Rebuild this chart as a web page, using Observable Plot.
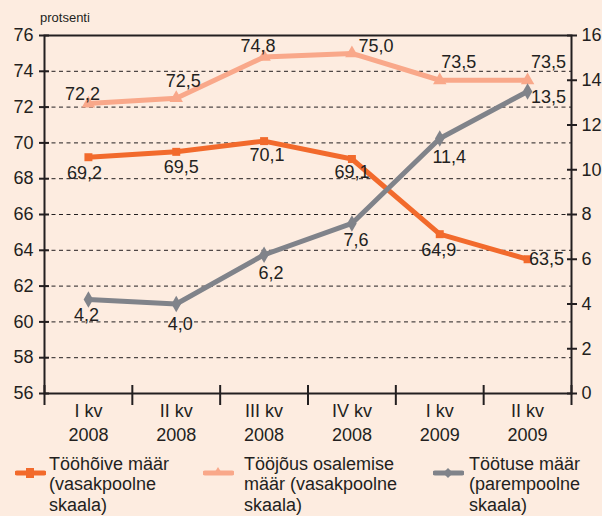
<!DOCTYPE html>
<html>
<head>
<meta charset="utf-8">
<script src="https://cdn.jsdelivr.net/npm/d3@7"></script>
<script src="https://cdn.jsdelivr.net/npm/@observablehq/plot@0.6"></script>
<style>
  html, body { margin: 0; padding: 0; background: #fdece0; }
  body { width: 602px; height: 516px; overflow: hidden; position: relative;
         font-family: "Liberation Sans", Arial, sans-serif; color: #231f20; }
  #chart { position: absolute; left: 0; top: 0; }
  .unit { position: absolute; left: 40px; top: 11px; font-size: 13px; line-height: 13px; }
  .item { position: absolute; top: 454px; font-size: 18px; line-height: 20.3px; white-space: pre; }
  .sw { position: absolute; top: 465px; }
</style>
</head>
<body>
<div id="chart"></div>
<div class="unit">protsenti</div>
<div id="legend"></div>
<script>
// ---- data ----
const quarters = ["I kv\n2008", "II kv\n2008", "III kv\n2008", "IV kv\n2008", "I kv\n2009", "II kv\n2009"];
const employment = [69.2, 69.5, 70.1, 69.1, 64.9, 63.5];      // Tööhõive määr (left)
const participation = [72.2, 72.5, 74.8, 75.0, 73.5, 73.5];   // Tööjõus osalemise määr (left)
const unemployment = [4.2, 4.0, 6.2, 7.6, 11.4, 13.5];        // Töötuse määr (right)
const leftTicks = [56, 58, 60, 62, 64, 66, 68, 70, 72, 74, 76];
const rightTicks = [0, 2, 4, 6, 8, 10, 12, 14, 16];
const gridTicks = [58, 60, 62, 64, 66, 68, 70, 72, 74];
const seriesNames = ["Tööhõive määr\n(vasakpoolne\nskaala)", "Tööjõus osalemise\nmäär (vasakpoolne\nskaala)", "Töötuse määr\n(parempoolne\nskaala)"];

// ---- styles / label placement ----
const ORANGE = "#f26a2c", SALMON = "#f9a88a", GRAY = "#80838a", INK = "#231f20";
const empOff = [[-4, 16], [5, 15], [3, 14.5], [0, 13], [-1, 16], [19, 0]];
const partOff = [[-6, -9], [7, -17], [-6, -11], [24, -7], [19, -18], [21, -18]];
const unempOff = [[-2, 16], [4, 20], [7, 18], [4, 17], [9.5, 19], [21, 5.5]];

const L0 = 56, L1 = 76, R1 = 16;
const toLeft = v => L0 + v * (L1 - L0) / R1;
const fromLeft = d => Math.round((d - L0) * R1 / (L1 - L0));
const fmt = v => v.toFixed(1).replace(".", ",");
const idx = d3.range(quarters.length);
const bounds = d3.range(quarters.length + 1).map(i => i - 0.5);

function labels(values, off, yf) {
  return values.map((v, i) => Plot.text([v], {
    x: () => i, y: yf, text: d => fmt(d), dx: off[i][0], dy: off[i][1],
    fontSize: 18, fill: INK, textAnchor: "middle", lineAnchor: "middle"
  }));
}

const chart = Plot.plot({
  width: 602, height: 460,
  marginLeft: 44, marginRight: 31, marginTop: 35, marginBottom: 67,
  style: { background: "transparent", fontFamily: "'Liberation Sans', Arial, sans-serif", color: INK },
  x: { domain: [-0.5, quarters.length - 0.5], axis: null },
  y: { domain: [L0, L1], axis: null },
  marks: [
    Plot.ruleY(gridTicks, { stroke: INK, strokeWidth: 1, strokeDasharray: "4,3.5" }),
    // left axis: crossing ticks + labels
    Plot.axisY(leftTicks, { anchor: "left", tickSize: 10, dx: 5, strokeWidth: 2, stroke: INK, fill: "none", label: null }),
    Plot.axisY(leftTicks, { anchor: "left", tickSize: 0, tickPadding: 11, fontSize: 18, fill: INK, stroke: "none", label: null }),
    // right axis
    Plot.axisY(rightTicks.map(toLeft), { anchor: "right", tickSize: 10, dx: -5, strokeWidth: 2, stroke: INK, fill: "none", label: null }),
    Plot.axisY(rightTicks.map(toLeft), { anchor: "right", tickSize: 0, tickPadding: 10, fontSize: 18, fill: INK, stroke: "none", label: null, tickFormat: fromLeft }),
    // x axis
    Plot.axisX(bounds, { anchor: "bottom", tickSize: 20, dy: -8, strokeWidth: 2, stroke: INK, fill: "none", label: null }),
    Plot.axisX(idx, { anchor: "bottom", tickSize: 0, tickPadding: 7, fontSize: 18, lineHeight: 1.32, fill: INK, stroke: "none", label: null, tickFormat: i => quarters[i] }),
    Plot.frame({ stroke: INK, strokeWidth: 2 }),
    Plot.line(employment, { x: (d, i) => i, y: d => d, stroke: ORANGE, strokeWidth: 5 }),
    Plot.dot(employment, { x: (d, i) => i, y: d => d, symbol: "square", r: 4.5, fill: ORANGE }),
    Plot.line(participation, { x: (d, i) => i, y: d => d, stroke: SALMON, strokeWidth: 5 }),
    Plot.dot(participation, { x: (d, i) => i, y: d => d, symbol: "triangle", r: 5, fill: SALMON }),
    Plot.line(unemployment, { x: (d, i) => i, y: d => toLeft(d), stroke: GRAY, strokeWidth: 5 }),
    Plot.dot(unemployment, { x: (d, i) => i, y: d => toLeft(d), symbol: "diamond", r: 5, fill: GRAY }),
    ...labels(employment, empOff, d => d),
    ...labels(participation, partOff, d => d),
    ...labels(unemployment, unempOff, d => toLeft(d))
  ]
});
document.getElementById("chart").appendChild(chart);

// ---- legend ----
const legendItems = [
  { name: seriesNames[0], color: ORANGE, shape: "square", sx: 15, tx: 49 },
  { name: seriesNames[1], color: SALMON, shape: "triangle", sx: 203, tx: 244 },
  { name: seriesNames[2], color: GRAY, shape: "diamond", sx: 433, tx: 469 }
];
const lg = document.getElementById("legend");
for (const it of legendItems) {
  const marker = it.shape === "square" ? `<rect x="11" y="1" width="8" height="10" fill="${it.color}"/>`
    : it.shape === "triangle" ? `<path d="M15,0 L20,8 L10,8 Z" fill="${it.color}"/>`
    : `<path d="M15,1 L20,6 L15,11 L10,6 Z" fill="${it.color}"/>`;
  const sw = document.createElement("div");
  sw.className = "sw";
  sw.style.left = it.sx + "px";
  sw.innerHTML = `<svg width="31" height="12"><line x1="2" y1="6" x2="29" y2="6" stroke="${it.color}" stroke-width="5" stroke-linecap="round"/>${marker}</svg>`;
  lg.appendChild(sw);
  const tx = document.createElement("div");
  tx.className = "item";
  tx.style.left = it.tx + "px";
  tx.textContent = it.name;
  lg.appendChild(tx);
}
</script>
</body>
</html>
